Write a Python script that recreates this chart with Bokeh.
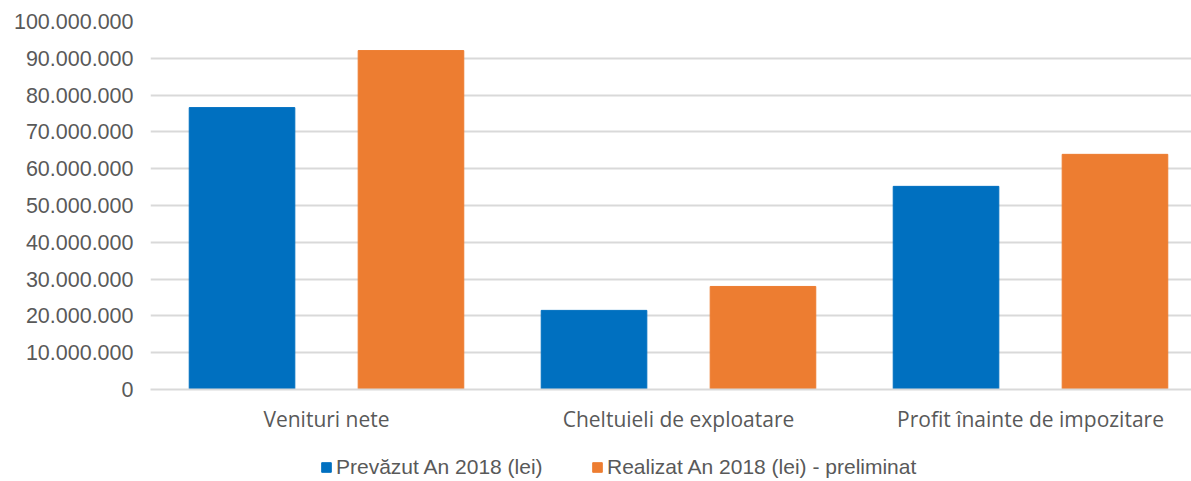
from bokeh.plotting import figure
from bokeh.layouts import column
from bokeh.models import Range1d, FixedTicker, Legend, LegendItem, ColumnDataSource, CustomJSTickFormatter
from bokeh.embed import file_html
from bokeh.resources import INLINE

categories = ["Venituri nete", "Cheltuieli de exploatare", "Profit înainte de impozitare"]
prevazut = [76_600_000, 21_500_000, 55_200_000]
realizat = [92_100_000, 28_000_000, 63_900_000]
series_names = ["Prevăzut An 2018 (lei)", "Realizat An 2018 (lei) - preliminat"]
y_ticks = [0, 10_000_000, 20_000_000, 30_000_000, 40_000_000, 50_000_000,
           60_000_000, 70_000_000, 80_000_000, 90_000_000, 100_000_000]

BLUE = "#0070C0"
ORANGE = "#ED7D31"
GRID = "#d9d9d9"
TEXT = "#595959"

W = 1191
centers = [i + 0.5 for i in range(len(categories))]
offset = 0.24
bw = 0.30
left = 150
x_end = (W - left) / 352.0

p = figure(width=W, height=447, output_backend="svg", toolbar_location=None,
           x_range=Range1d(0, x_end), y_range=Range1d(0, 100_000_000),
           min_border_left=left, min_border_right=0, min_border_top=21, min_border_bottom=58)
p.outline_line_color = None

src_a = ColumnDataSource(dict(x=[c - offset for c in centers], top=prevazut))
src_b = ColumnDataSource(dict(x=[c + offset for c in centers], top=realizat))
p.vbar(x="x", top="top", width=bw, source=src_a, fill_color=BLUE, line_color=BLUE)
p.vbar(x="x", top="top", width=bw, source=src_b, fill_color=ORANGE, line_color=ORANGE)

# y axis
p.yaxis.ticker = FixedTicker(ticks=y_ticks)
p.yaxis.formatter = CustomJSTickFormatter(code="""
    return tick.toFixed(0).replace(/\\B(?=(\\d{3})+(?!\\d))/g, '.');
""")
p.yaxis.axis_line_color = None
p.yaxis.major_tick_line_color = None
p.yaxis.minor_tick_line_color = None
p.yaxis.major_label_text_font = "Liberation Sans"
p.yaxis.major_label_text_font_size = "21.5px"
p.yaxis.major_label_text_color = TEXT
p.yaxis.major_label_standoff = 11

# x axis
p.xaxis.ticker = FixedTicker(ticks=centers)
p.xaxis.major_label_overrides = {c: n for c, n in zip(centers, categories)}
p.xaxis.axis_line_color = GRID
p.xaxis.axis_line_width = 2
p.xaxis.major_tick_line_color = None
p.xaxis.minor_tick_line_color = None
p.xaxis.major_label_text_font = "Open Sans"
p.xaxis.major_label_text_font_size = "21px"
p.xaxis.major_label_text_color = TEXT
p.xaxis.major_label_standoff = 9

p.xgrid.grid_line_color = None
p.ygrid.grid_line_color = GRID
p.ygrid.grid_line_width = 2

# legend strip (frame is aligned with the main chart's frame by the column layout)
lp = figure(width=W, height=34, output_backend="svg", toolbar_location=None,
            x_range=Range1d(0, 1), y_range=Range1d(0, 1),
            min_border_left=0, min_border_right=0, min_border_top=0, min_border_bottom=0)
lp.axis.visible = False
lp.grid.visible = False
lp.outline_line_color = None
la = lp.vbar(x=[5], top=[1], width=0.1, fill_color=BLUE, line_color=BLUE)
lb = lp.vbar(x=[5], top=[1], width=0.1, fill_color=ORANGE, line_color=ORANGE)
for r, name, xpos in ((la, series_names[0], 320 - left), (lb, series_names[1], 591 - left)):
    lg = Legend(items=[LegendItem(label=name, renderers=[r])],
                location=(xpos, 2), orientation="horizontal",
                glyph_width=12, glyph_height=12, label_standoff=4,
                label_text_font="Liberation Sans", label_text_font_size="21px",
                label_text_color=TEXT, border_line_color=None,
                background_fill_alpha=0, margin=0, padding=0)
    lp.add_layout(lg, "center")

open("out.html", "w").write(file_html(column(p, lp, spacing=0), INLINE))
